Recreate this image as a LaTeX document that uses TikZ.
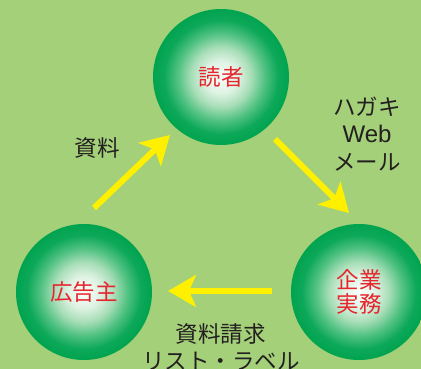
\documentclass[tikz,border=0pt]{standalone}
\usepackage{fontspec}
\newfontfamily\jp{Noto Sans CJK JP}
\newfontfamily\lat{Liberation Sans}
\usetikzlibrary{arrows.meta}
\definecolor{bg}{HTML}{A3D078}
\definecolor{ballgreen}{HTML}{00A650}
\definecolor{lbl}{HTML}{E6262E}
\definecolor{txt}{HTML}{231F20}
\definecolor{arr}{HTML}{FFF000}
\pgfdeclareradialshading{ballshade}{\pgfpoint{0bp}{0bp}}{rgb(0bp)=(0.98,1,0.98); rgb(6bp)=(0.87,0.95,0.89); rgb(11bp)=(0.66,0.87,0.72); rgb(16bp)=(0.32,0.76,0.51); rgb(21bp)=(0.05,0.66,0.35); rgb(25bp)=(0,0.64,0.31); rgb(50bp)=(0,0.64,0.31)}
\tikzset{
  ball/.style={circle, minimum size=136bp, inner sep=0pt, shading=ballshade, draw=none,
    text=lbl, font=\jp\fontsize{22.5bp}{24bp}\selectfont, align=center},
  note/.style={text=txt, font=\jp\fontsize{22.5bp}{27.5bp}\selectfont, align=center, inner sep=0pt},
  yarrow/.style={draw=arr, line width=6bp, -{Stealth[length=28bp,width=32bp,inset=7bp]}}
}
\begin{document}
\begin{tikzpicture}[x=1bp,y=-1bp]
\useasboundingbox (0,0) rectangle (421,369);
\clip (0,0) rectangle (421,369);
\fill[bg] (0,0) rectangle (421,369);
\node[ball] (reader) at (221,77) {読者};
\node[ball] (corp) at (359,292) {企業\\実務};
\node[ball] (adv) at (84,292) {広告主};
\coordinate (a1s) at (94,208);
\coordinate (a1e) at (170,135);
\coordinate (a2s) at (275,139);
\coordinate (a2e) at (349,213);
\coordinate (a3s) at (272,291);
\coordinate (a3e) at (168,291);
\draw[yarrow] (a1s) -- (a1e);
\draw[yarrow] (a2s) -- (a2e);
\draw[yarrow] (a3s) -- (a3e);
\node[note] (t1) at (97,148) {資料};
\node[note] (t2) at (367,134) {ハガキ\\{\lat\fontsize{24bp}{27.5bp}\selectfont Web}\\メール};
\node[note] (t3) at (221,347) {資料請求\\リスト・ラベル};
\end{tikzpicture}
\end{document}
